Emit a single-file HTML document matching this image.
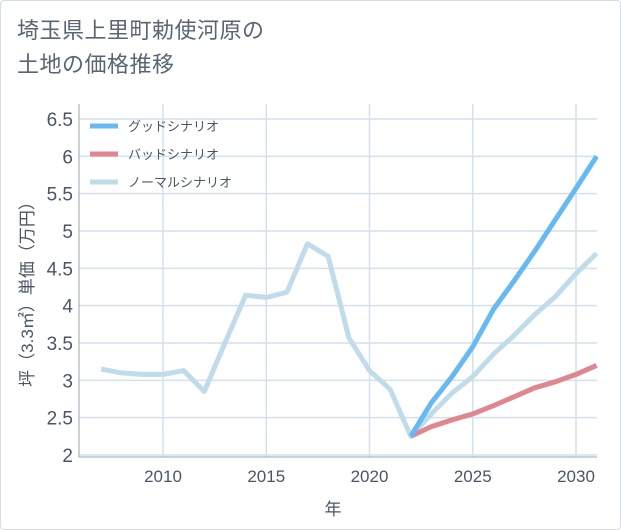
<!DOCTYPE html>
<html><head><meta charset="utf-8"><style>
html,body{margin:0;padding:0;background:#fff}
body{width:621px;height:530px;overflow:hidden;font-family:"Liberation Sans","Noto Sans CJK JP",sans-serif}
#frame{position:absolute;left:0;top:0;width:619px;height:528px;border:1px solid #d5dde6;border-radius:4px}
#title{position:absolute;left:17px;top:14px;font-size:22px;line-height:34px;color:#5a6572;letter-spacing:0.5px}
</style></head><body>
<div id="frame"></div>
<div id="title">埼玉県上里町勅使河原の<br>土地の価格推移</div>
<svg id="chart" width="621" height="530" style="position:absolute;left:0;top:0"></svg>
<script>
const years=[2007,2008,2009,2010,2011,2012,2013,2014,2015,2016,2017,2018,2019,2020,2021,2022,2023,2024,2025,2026,2027,2028,2029,2030,2031];
const normalValues=[3.15,3.1,3.08,3.08,3.13,2.85,3.5,4.14,4.11,4.18,4.83,4.66,3.57,3.13,2.88,2.25,2.55,2.83,3.05,3.35,3.6,3.88,4.12,4.43,4.7];
const forecastYears=[2022,2023,2024,2025,2026,2027,2028,2029,2030,2031];
const goodValues=[2.25,2.7,3.05,3.45,3.95,4.33,4.73,5.15,5.57,6.0];
const badValues=[2.25,2.38,2.47,2.55,2.66,2.78,2.9,2.98,3.08,3.2];
const yTicks=[2,2.5,3,3.5,4,4.5,5,5.5,6,6.5];
const yTickLabels=["2","2.5","3","3.5","4","4.5","5","5.5","6","6.5"];
const xTicks=[2010,2015,2020,2025,2030];
const NS="http://www.w3.org/2000/svg";
const svg=document.getElementById('chart');
const L=79,R=597,T=104,B=457;
const xs=y=>163+(y-2010)*20.65;
const ys=v=>455-(v-2)*74.67;
function el(t,a,p){const e=document.createElementNS(NS,t);for(const k in a)e.setAttribute(k,a[k]);(p||svg).appendChild(e);return e;}
for(let i=0;i<yTicks.length;i++){
  const y=ys(yTicks[i]);
  const g=el('line',{x1:L,x2:R,y1:y,y2:y,stroke:'#d3e1ec','stroke-width':1.5});
  
  
  const t=el('text',{x:73,y:y+7,'text-anchor':'end','font-size':19,fill:'#4a5666'});
  t.textContent=yTickLabels[i];
  
  
}
for(const yr of xTicks){
  const x=xs(yr);
  const g=el('line',{x1:x,x2:x,y1:T,y2:B,stroke:'#d3e1ec','stroke-width':1.5});
  
  
  const t=el('text',{x:x,y:482,'text-anchor':'middle','font-size':17,fill:'#4a5666'});
  t.textContent=String(yr);
  
  
}
const ax=el('path',{d:`M${L} ${T}V${B}H${R}`,fill:'none',stroke:'#9aa6b2','stroke-width':1});


function series(xv,yv,color,name){
  const d=xv.map((x,i)=>(i?'L':'M')+xs(x).toFixed(1)+' '+ys(yv[i]).toFixed(1)).join('');
  const p=el('path',{d:d,fill:'none',stroke:color,'stroke-width':5,'stroke-linejoin':'round'});
  
  
}
series(years,normalValues,'#c0dcea','normal-scenario-line');
series(forecastYears,badValues,'#e0868e','bad-scenario-line');
series(forecastYears,goodValues,'#66b9f2','good-scenario-line');
const leg=[['グッドシナリオ','#66b9f2'],['バッドシナリオ','#e0868e'],['ノーマルシナリオ','#c0dcea']];
leg.forEach((l,i)=>{
  const y=126+i*28;
  const s=el('line',{x1:90,x2:118,y1:y,y2:y,stroke:l[1],'stroke-width':5});
  
  
  const t=el('text',{x:128,y:y+5,'font-size':13,fill:'#4a5666'});
  t.textContent=l[0];
  
  
});
const xt=el('text',{x:333,y:515,'text-anchor':'middle','font-size':17,fill:'#4a5666'});
xt.textContent='年';


const yt=el('text',{x:0,y:0,'text-anchor':'middle','font-size':17,fill:'#4a5666',transform:'translate(33,290) rotate(-90)'});
yt.textContent='坪（3.3㎡）単価（万円）';


</script>
</body></html>
